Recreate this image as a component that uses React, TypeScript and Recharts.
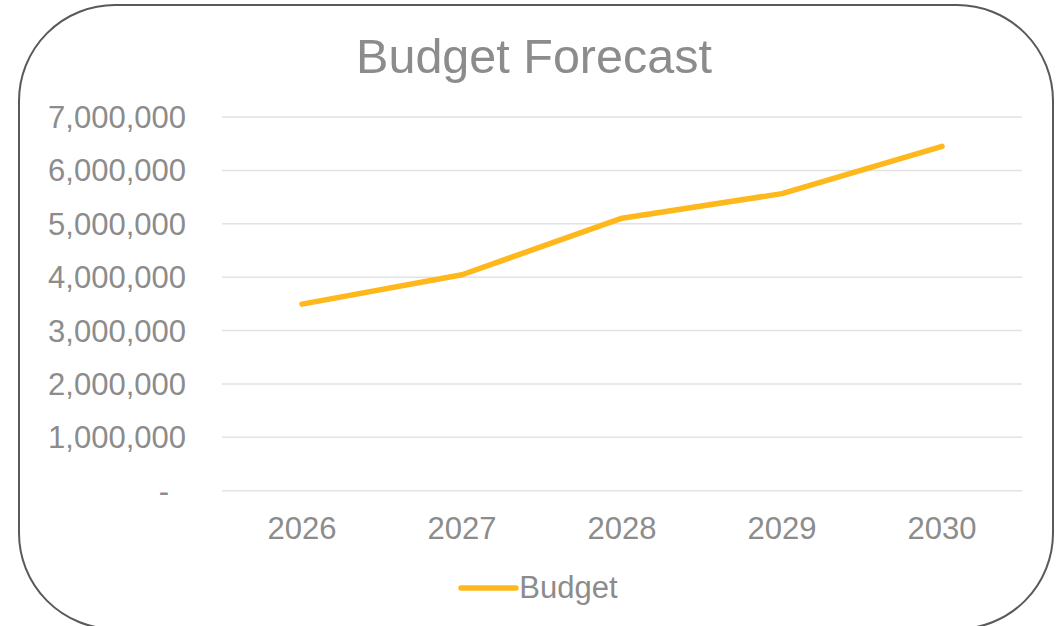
import React from 'react';
import { LineChart, Line, XAxis, YAxis, CartesianGrid, Legend } from 'recharts';

const years = ['2026', '2027', '2028', '2029', '2030'];
const budget = [3495000, 4045000, 5105000, 5565000, 6450000];
const yTicks = [0, 1000000, 2000000, 3000000, 4000000, 5000000, 6000000, 7000000];
const seriesName = 'Budget';
const title = 'Budget Forecast';

const data = years.map((y, i) => ({ year: y, Budget: budget[i] }));

const FONT = '"Liberation Sans", Arial, Helvetica, sans-serif';
const TEXT = '#8C8C8C';
const LINE = '#FFB81C';

const YTick = (props: any) => {
  const { x, y, payload } = props;
  const v = payload.value as number;
  const label = v === 0 ? '-' : v.toLocaleString('en-US');
  return (
    <text
      x={v === 0 ? x - 17 : x}
      y={y}
      dy="0.355em"
      textAnchor="end"
      fill={TEXT}
      fontSize={31}
      fontFamily={FONT}
    >
      {label}
    </text>
  );
};

const LegendContent = () => (
  <div
    style={{
      display: 'flex',
      justifyContent: 'center',
      alignItems: 'center',
      paddingLeft: 15,
      height: 40,
      fontFamily: FONT,
    }}
  >
    <svg width={61} height={10} style={{ display: 'block' }}>
      <line x1={3} y1={5} x2={58} y2={5} stroke={LINE} strokeWidth={5.5} strokeLinecap="round" />
    </svg>
    <span style={{ fontSize: 31, color: TEXT, lineHeight: '40px' }}>{seriesName}</span>
  </div>
);

export default function App() {
  return (
    <div
      style={{
        position: 'absolute',
        left: 0,
        top: 0,
        width: 1061,
        height: 626,
        overflow: 'hidden',
        background: '#fff',
        fontFamily: FONT,
      }}
    >
      <div
        style={{
          position: 'absolute',
          left: 18,
          top: 4,
          width: 1036,
          height: 626,
          boxSizing: 'border-box',
          border: '2px solid #595959',
          borderRadius: 97,
        }}
      />
      <svg
        width={1061}
        height={100}
        style={{ position: 'absolute', left: 0, top: 0 }}
      >
        <text x={534} y={73} textAnchor="middle" fill={TEXT} fontSize={48.5} fontFamily={FONT}>
          {title}
        </text>
      </svg>
      <div style={{ position: 'absolute', left: 0, top: 0 }}>
        <LineChart
          width={1061}
          height={626}
          data={data}
          margin={{ top: 117, right: 39, left: 0, bottom: 105.3 }}
        >
          <CartesianGrid vertical={false} stroke="#E2E2E2" strokeWidth={1.5} />
          <XAxis
            dataKey="year"
            axisLine={false}
            tickLine={false}
            tickSize={6}
            tickMargin={20}
            height={30}
            padding={{ left: 80, right: 80 }}
            tick={{ fill: TEXT, fontSize: 31, fontFamily: FONT }}
          />
          <YAxis
            width={222}
            domain={[0, 7000000]}
            ticks={yTicks}
            axisLine={false}
            tickLine={false}
            tickSize={6}
            tickMargin={30}
            interval={0}
            tick={<YTick />}
          />
          <Legend
            verticalAlign="middle"
            align="center"
            layout="horizontal"
            wrapperStyle={{ top: 568, left: 0, width: 1061, bottom: 'auto' }}
            content={<LegendContent />}
          />
          <Line
            type="linear"
            dataKey="Budget"
            name={seriesName}
            stroke={LINE}
            strokeWidth={5.5}
            strokeLinecap="round"
            strokeLinejoin="round"
            dot={false}
            activeDot={false}
            isAnimationActive={false}
          />
        </LineChart>
      </div>
    </div>
  );
}
